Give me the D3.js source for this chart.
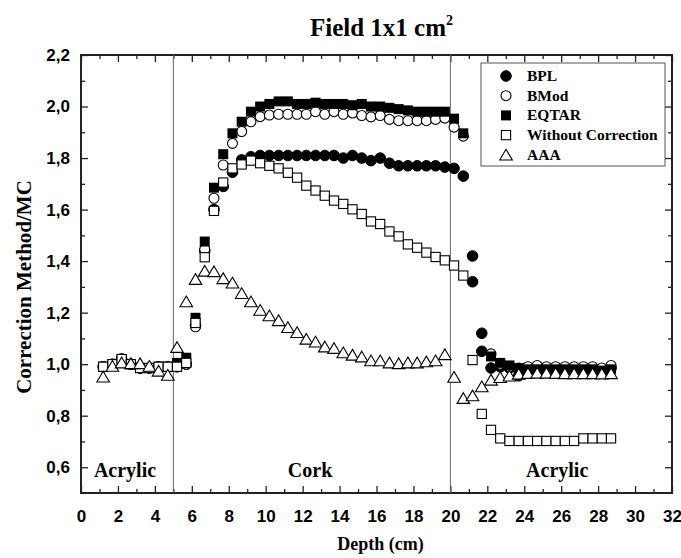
<!DOCTYPE html>
<html>
<head>
  <meta charset="utf-8">
  <style>
body {
  margin: 0;
  background: #fff;
}

svg {
  font-family: "Liberation Serif", "Times New Roman", serif;
  font-weight: bold;
}

.tick line {
  stroke: #222;
  stroke-width: 1.3;
}
  </style>
</head>
<body>
  <svg id="chart" width="681" height="558"></svg>
  <script src="https://cdn.jsdelivr.net/npm/d3@7/dist/d3.min.js"></script>
  <script>
// Depth of every measuring point (cm)
var depth = [1.2, 1.7, 2.2, 2.7, 3.2, 3.7, 4.2, 4.7, 5.2, 5.7,
             6.2, 6.7, 7.2, 7.7, 8.2, 8.7, 9.2, 9.7, 10.2, 10.7,
             11.2, 11.7, 12.2, 12.7, 13.2, 13.7, 14.2, 14.7, 15.2, 15.7,
             16.2, 16.7, 17.2, 17.7, 18.2, 18.7, 19.2, 19.7, 20.2, 20.7,
             21.2, 21.7, 22.2, 22.7, 23.2, 23.7, 24.2, 24.7, 25.2, 25.7,
             26.2, 26.7, 27.2, 27.7, 28.2, 28.7];

// Correction method / MC ratios, one value per depth (null = no point)
var bpl = [0.99, 1.00, 1.02, 1.00, 0.985, 0.985, 0.99, 0.99, 0.99, 1.00,
           1.15, 1.44, 1.60, 1.69, 1.745, 1.793, 1.805, 1.81, 1.81, 1.81,
           1.81, 1.81, 1.81, 1.81, 1.81, 1.81, 1.80, 1.81, 1.80, 1.79,
           1.80, 1.78, 1.77, 1.77, 1.77, 1.77, 1.77, 1.765, 1.76, 1.73,
           1.32, 1.05, 0.985, 0.99, 0.985, 0.955, 0.98, 0.98, 0.98, 0.98,
           0.98, 0.98, 0.98, 0.98, 0.98, 0.985];
// two extra BPL points just behind the second interface [depth, value]
var bplExtra = [[21.2, 1.42], [21.7, 1.12]];

var bmod = [0.99, 1.00, 1.02, 1.00, 0.985, 0.985, 0.99, 0.99, 0.99, 1.00,
            1.145, 1.446, 1.644, 1.773, 1.857, 1.903, 1.941, 1.961, 1.967, 1.97,
            1.97, 1.97, 1.97, 1.98, 1.97, 1.98, 1.97, 1.975, 1.965, 1.96,
            1.965, 1.95, 1.945, 1.945, 1.945, 1.945, 1.95, 1.955, 1.92, 1.885,
            null, null, 1.04, 1.00, 0.99, 0.985, 0.99, 0.995, 0.99, 0.99,
            0.99, 0.99, 0.99, 0.99, 0.985, 0.995];

var eqtar = [0.99, 1.00, 1.02, 1.00, 0.985, 0.985, 0.99, 0.99, 1.005, 1.025,
             1.18, 1.476, 1.685, 1.815, 1.896, 1.941, 1.98, 2.00, 2.01, 2.02,
             2.02, 2.01, 2.01, 2.015, 2.01, 2.01, 2.01, 2.005, 2.01, 2.00,
             2.00, 1.995, 1.99, 1.985, 1.98, 1.98, 1.98, 1.98, 1.953, 1.896,
             null, null, 1.03, 1.005, 0.995, 0.985, 0.98, 0.98, 0.98, 0.98,
             0.98, 0.98, 0.98, 0.98, 0.975, 0.98];

var withoutCorr = [0.99, 1.00, 1.02, 1.00, 0.985, 0.985, 0.99, 0.99, 0.99, 1.005,
                   1.16, 1.415, 1.595, 1.705, 1.76, 1.775, 1.79, 1.78, 1.77, 1.76,
                   1.743, 1.724, 1.693, 1.674, 1.654, 1.635, 1.622, 1.601, 1.583, 1.554,
                   1.544, 1.515, 1.496, 1.465, 1.452, 1.433, 1.416, 1.403, 1.383, 1.344,
                   1.016, 0.807, 0.745, 0.712, 0.702, 0.702, 0.702, 0.702, 0.702, 0.702,
                   0.702, 0.702, 0.712, 0.712, 0.712, 0.712];

var aaa = [0.951, 0.993, 1.006, 1.003, 1.003, 0.993, 0.974, 0.958, 1.066, 1.243,
           1.33, 1.362, 1.36, 1.333, 1.316, 1.275, 1.243, 1.21, 1.189, 1.17,
           1.143, 1.124, 1.098, 1.087, 1.068, 1.062, 1.045, 1.036, 1.029, 1.014,
           1.014, 1.006, 1.003, 1.006, 1.006, 1.01, 1.014, 1.038, 0.95, 0.868,
           0.878, 0.913, 0.939, 0.949, 0.955, 0.962, 0.965, 0.966, 0.966, 0.965,
           0.964, 0.964, 0.964, 0.964, 0.963, 0.964];

var seriesNames = ["BPL", "BMod", "EQTAR", "Without Correction", "AAA"];
var interfaces = [5, 20];
var regionLabels = [
  {text: "Acrylic", x: 0.7},
  {text: "Cork", x: 11.2},
  {text: "Acrylic", x: 24.1}
];

var svg = d3.select("#chart"),
    margin = {top: 55, right: 9, bottom: 65, left: 81},
    width = +svg.attr("width") - margin.left - margin.right,
    height = +svg.attr("height") - margin.top - margin.bottom;

var x = d3.scaleLinear().domain([0, 32]).range([0, width]);
var y = d3.scaleLinear().domain([0.5, 2.2]).range([height, 0]);

var comma = function(d) { return d3.format(".1f")(d).replace(".", ","); };

var g = svg.append("g")
    .attr("transform", "translate(" + margin.left + "," + margin.top + ")");

// Title with superscript
var title = svg.append("text")
    .attr("x", margin.left + width / 2 + 5)
    .attr("y", 36)
    .attr("text-anchor", "middle")
    .style("font-size", "25px");
title.append("tspan").text("Field 1x1 cm");
title.append("tspan").attr("dy", -11).style("font-size", "14px").text("2");

// Axes: major ticks with labels, minor ticks, all pointing inward
var xMajor = d3.range(0, 33, 2), xMinor = d3.range(1, 32, 2);
var yMajor = d3.range(6, 23, 2).map(function(d) { return d / 10; });
var yMinor = d3.range(7, 22, 2).map(function(d) { return d / 10; });

function addAxis(axis, transform) {
  var a = g.append("g").attr("transform", transform).call(axis);
  a.select(".domain").remove();
  return a;
}

var xb = addAxis(d3.axisBottom(x).tickValues(xMajor).tickSizeInner(-7).tickSizeOuter(0).tickPadding(17), "translate(0," + height + ")");
xb.selectAll("text").style("font-size", "17px").attr("fill", "#000");
addAxis(d3.axisBottom(x).tickValues(xMinor).tickSize(-4).tickFormat(""), "translate(0," + height + ")");
addAxis(d3.axisTop(x).tickValues(xMajor).tickSize(-7).tickFormat(""), "translate(0,0)");
addAxis(d3.axisTop(x).tickValues(xMinor).tickSize(-4).tickFormat(""), "translate(0,0)");

var yl = addAxis(d3.axisLeft(y).tickValues(yMajor).tickSizeInner(-7).tickSizeOuter(0).tickPadding(11).tickFormat(comma), "translate(0,0)");
yl.selectAll("text").style("font-size", "17px").attr("fill", "#000");
addAxis(d3.axisLeft(y).tickValues(yMinor).tickSize(-4).tickFormat(""), "translate(0,0)");
addAxis(d3.axisRight(y).tickValues(yMajor).tickSize(-7).tickFormat(""), "translate(" + width + ",0)");
addAxis(d3.axisRight(y).tickValues(yMinor).tickSize(-4).tickFormat(""), "translate(" + width + ",0)");

g.selectAll(".tick text").attr("font-family", null).attr("font-size", null);

// Frame
g.append("rect")
    .attr("width", width)
    .attr("height", height)
    .attr("fill", "none")
    .attr("stroke", "#222")
    .attr("stroke-width", 2);

// Axis titles
svg.append("text")
    .attr("x", margin.left + width / 2 + 4)
    .attr("y", 550)
    .attr("text-anchor", "middle")
    .style("font-size", "18px")
    .text("Depth (cm)");

svg.append("text")
    .attr("transform", "translate(31," + (margin.top + height / 2 + 13) + ") rotate(-90)")
    .attr("text-anchor", "middle")
    .style("font-size", "21px")
    .text("Correction Method/MC");

// Material interfaces
g.selectAll(".interface")
  .data(interfaces)
  .enter().append("line")
    .attr("class", "interface")
    .attr("x1", function(d) { return x(d); })
    .attr("x2", function(d) { return x(d); })
    .attr("y1", 0)
    .attr("y2", height)
    .attr("stroke", "#666")
    .attr("stroke-width", 1);

g.selectAll(".region")
  .data(regionLabels)
  .enter().append("text")
    .attr("class", "region")
    .attr("x", function(d) { return x(d.x); })
    .attr("y", y(0.5) - 16)
    .style("font-size", "20px")
    .text(function(d) { return d.text; });

// Marker shapes
var shapes = {
  circleFilled: function(sel) {
    sel.append("circle").attr("r", 5.3).attr("fill", "#000").attr("stroke", "#000");
  },
  circleOpen: function(sel) {
    sel.append("circle").attr("r", 5).attr("fill", "#fff").attr("stroke", "#000").attr("stroke-width", 1.1);
  },
  squareFilled: function(sel) {
    sel.append("rect").attr("x", -5).attr("y", -5).attr("width", 10).attr("height", 10).attr("fill", "#000");
  },
  squareOpen: function(sel) {
    sel.append("rect").attr("x", -4.6).attr("y", -4.6).attr("width", 9.2).attr("height", 9.2)
        .attr("fill", "#fff").attr("stroke", "#000").attr("stroke-width", 1.1);
  },
  triangleOpen: function(sel) {
    sel.append("path").attr("d", "M0,-5.5L6.3,5.2L-6.3,5.2Z")
        .attr("fill", "#fff").attr("stroke", "#000").attr("stroke-width", 1.1);
  }
};

var series = [
  {name: seriesNames[0], values: bpl, shape: shapes.circleFilled},
  {name: seriesNames[1], values: bmod, shape: shapes.circleOpen},
  {name: seriesNames[2], values: eqtar, shape: shapes.squareFilled},
  {name: seriesNames[3], values: withoutCorr, shape: shapes.squareOpen},
  {name: seriesNames[4], values: aaa, shape: shapes.triangleOpen}
];

// Points, drawn in legend order so later series sit on top
series.forEach(function(s, si) {
  var pts = depth.map(function(d, i) { return [d, s.values[i]]; })
      .filter(function(p) { return p[1] !== null; });
  if (si === 0) pts = pts.concat(bplExtra);
  g.append("g")
    .selectAll("g")
    .data(pts)
    .enter().append("g")
      .attr("transform", function(p) { return "translate(" + x(p[0]) + "," + y(p[1]) + ")"; })
      .call(s.shape);
});

// Legend
var legend = svg.append("g").attr("transform", "translate(481,63)");
legend.append("rect")
    .attr("width", 184)
    .attr("height", 103)
    .attr("fill", "#fff")
    .attr("stroke", "#555")
    .attr("stroke-width", 1);

var item = legend.selectAll(".item")
  .data(series)
  .enter().append("g")
    .attr("class", "item")
    .attr("transform", function(d, i) { return "translate(25," + (13 + i * 19.7) + ")"; });

item.each(function(d) { d3.select(this).append("g").call(d.shape); });
item.append("text")
    .attr("x", 21)
    .attr("y", 5)
    .style("font-size", "15.5px")
    .text(function(d) { return d.name; });
  </script>
</body>
</html>
